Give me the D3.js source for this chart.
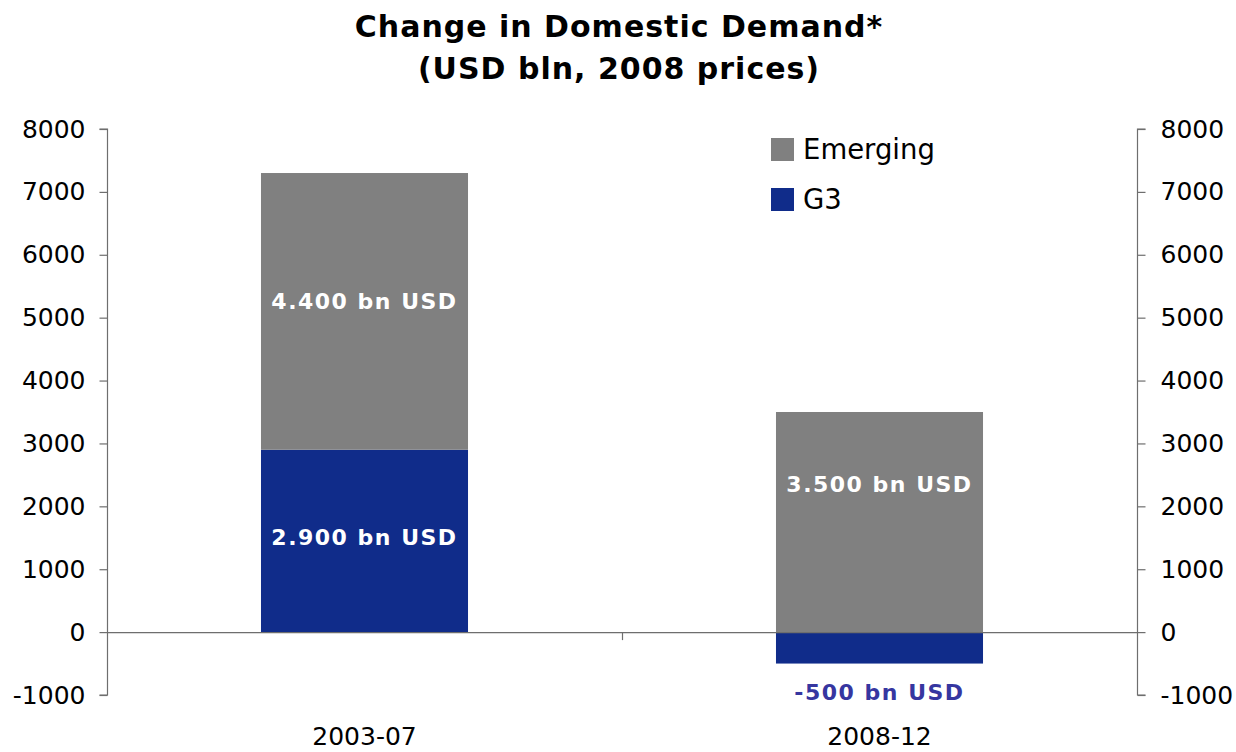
<!DOCTYPE html>
<html>
    <head>
        <meta charset="utf-8">
        <script src="https://d3js.org/d3.v7.min.js"></script>
        <style>
            body { margin: 0; background: #fff; }
            text { font-family: "DejaVu Sans", sans-serif; }
        </style>
    </head>
    <body>
        <div id="chart-container"></div>
        <script>
            // Data
            var categories = ["2003-07", "2008-12"];
            var g3 = [2900, -500];
            var emerging = [4400, 3500];
            var labelText = [["2.900 bn USD", "4.400 bn USD"], ["-500 bn USD", "3.500 bn USD"]];
            // where the data labels sit (value units)
            var labelAt = [[1510, 5270], [-950, 2350]];
            var yTicks = [-1000, 0, 1000, 2000, 3000, 4000, 5000, 6000, 7000, 8000];
            var seriesNames = ["Emerging", "G3"];

            var W = 1236, H = 752;
            var margin = {top: 129, right: 99, bottom: 57, left: 107},
                width = W - margin.left - margin.right,
                height = H - margin.top - margin.bottom;

            var colors = d3.scaleOrdinal()
                .domain(["Emerging", "G3"])
                .range(["#808080", "#102C8A"]);

            var svg = d3.select("#chart-container")
                .append("svg")
                    .attr("width", W)
                    .attr("height", H);

            var g = svg.append("g")
                .attr("transform", "translate(" + margin.left + "," + margin.top + ")");

            // scales
            var x = d3.scaleBand()
                .domain(categories)
                .range([0, width])
                .paddingInner(0.598)
                .paddingOuter(0.299);

            var y = d3.scaleLinear()
                .domain([-1000, 8000])
                .range([height, 0]);

            // title
            var title = svg.append("text")
                .attr("text-anchor", "middle")
                .attr("font-weight", "bold")
                .attr("font-size", 30)
                .attr("letter-spacing", 1)
                .attr("fill", "#000");
            title.append("tspan").attr("x", 619).attr("y", 37).text("Change in Domestic Demand*");
            title.append("tspan").attr("x", 619).attr("y", 79).text("(USD bln, 2008 prices)");

            // stacked bars: G3 from 0, Emerging stacked on positive G3 (or from 0 if G3 negative)
            var stackData = [];
            categories.forEach(function(c, i) {
                var base = Math.max(0, g3[i]);
                stackData.push({cat: c, s: "G3", y0: 0, y1: g3[i]});
                stackData.push({cat: c, s: "Emerging", y0: base, y1: base + emerging[i]});
            });

            g.selectAll("rect.bar")
                .data(stackData)
                .enter()
                .append("rect")
                    .attr("class", "bar")
                    .attr("x", function(d) { return x(d.cat); })
                    .attr("width", x.bandwidth())
                    .attr("y", function(d) { return y(Math.max(d.y0, d.y1)); })
                    .attr("height", function(d) { return Math.abs(y(d.y0) - y(d.y1)); })
                    .style("fill", function(d) { return colors(d.s); });

            // zero line + category ticks
            g.append("line")
                .attr("x1", 0).attr("x2", width)
                .attr("y1", y(0) + 0.5).attr("y2", y(0) + 0.5)
                .attr("stroke", "#6e6e6e").attr("stroke-width", 1.2);

            g.append("line")
                .attr("x1", width / 2 + 0.5).attr("x2", width / 2 + 0.5)
                .attr("y1", y(0)).attr("y2", y(0) + 8)
                .attr("stroke", "#6e6e6e").attr("stroke-width", 1.2);

            // category labels
            g.selectAll("text.cat")
                .data(categories)
                .enter()
                .append("text")
                    .attr("class", "cat")
                    .attr("x", function(d) { return x(d) + x.bandwidth() / 2; })
                    .attr("y", height + 50)
                    .attr("text-anchor", "middle")
                    .attr("font-size", 25)
                    .attr("fill", "#000")
                    .text(function(d) { return d; });

            // axes
            var fmt = function(d) { return String(d); };
            var leftAxis = g.append("g")
                .attr("transform", "translate(0.5,0)")
                .call(d3.axisLeft(y).tickValues(yTicks).tickSize(8).tickPadding(14).tickFormat(fmt));
            var rightAxis = g.append("g")
                .attr("transform", "translate(" + (width + 0.5) + ",0)")
                .call(d3.axisRight(y).tickValues(yTicks).tickSize(8).tickPadding(15).tickFormat(fmt));

            [leftAxis, rightAxis].forEach(function(a) {
                a.select(".domain").attr("stroke", "#6e6e6e").attr("stroke-width", 1.2)
                    .attr("d", a === leftAxis
                        ? "M-8," + y(8000) + "H0V" + y(-1000) + "H-8"
                        : "M8," + y(8000) + "H0V" + y(-1000) + "H8");
                a.selectAll(".tick line").attr("stroke", "#6e6e6e").attr("stroke-width", 1.2);
                a.selectAll(".tick text")
                    .attr("font-family", "DejaVu Sans")
                    .attr("font-size", 25)
                    .attr("fill", "#000");
            });

            // data labels
            var labels = [];
            categories.forEach(function(c, i) {
                labels.push({cat: c, v: labelAt[i][0], t: labelText[i][0], neg: g3[i] < 0});
                labels.push({cat: c, v: labelAt[i][1], t: labelText[i][1], neg: false});
            });

            g.selectAll("text.lbl")
                .data(labels)
                .enter()
                .append("text")
                    .attr("class", "lbl")
                    .attr("x", function(d) { return x(d.cat) + x.bandwidth() / 2; })
                    .attr("y", function(d) { return y(d.v); })
                    .attr("dy", "0.36em")
                    .attr("text-anchor", "middle")
                    .attr("font-weight", "bold")
                    .attr("font-size", 22)
                    .attr("letter-spacing", 1.5)
                    .attr("fill", function(d) { return d.neg ? "#3636A0" : "#fff"; })
                    .text(function(d) { return d.t; });

            // legend
            var legend = svg.selectAll("g.legend")
                .data(seriesNames)
                .enter()
                .append("g")
                    .attr("class", "legend")
                    .attr("transform", function(d, i) { return "translate(771," + (138 + i * 50) + ")"; });

            legend.append("rect")
                .attr("width", 23).attr("height", 23)
                .style("fill", function(d) { return colors(d); });

            legend.append("text")
                .attr("x", 32).attr("y", 11.5)
                .attr("dy", "0.36em")
                .attr("font-size", 27.5)
                .attr("fill", "#000")
                .text(function(d) { return d; });
        </script>
    </body>
</html>
